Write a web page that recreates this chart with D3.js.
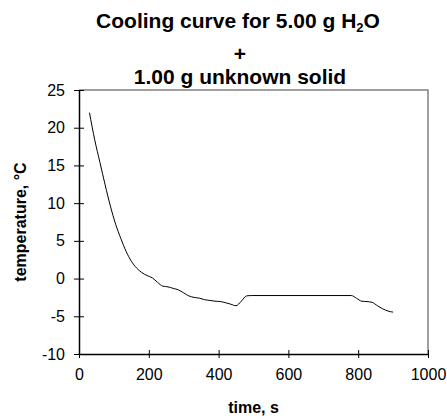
<!DOCTYPE html>
<html>
<head>
<meta charset="utf-8">
<script src="https://cdn.jsdelivr.net/npm/d3@7"></script>
<style>
  body { margin: 0; background: #fff; }
  text { font-family: "Liberation Sans", Arial, sans-serif; fill: #000; }
</style>
</head>
<body>
<script>
//Data
var times = [30, 45, 60, 75, 90, 105, 120, 135, 150, 165, 180, 195, 210, 225, 240, 255, 270, 285, 300, 315,
             330, 345, 360, 375, 390, 405, 420, 435, 450, 465, 480, 495, 780, 795, 810, 825, 840, 855, 870, 885, 900];
var temps = [22.0, 18.4, 15.4, 12.4, 9.6, 7.2, 5.3, 3.6, 2.3, 1.4, 0.8, 0.4, 0.1, -0.5, -1.0, -1.1, -1.3, -1.5, -1.9, -2.3,
             -2.5, -2.6, -2.8, -2.9, -3.0, -3.05, -3.2, -3.4, -3.6, -3.0, -2.3, -2.25, -2.25, -2.6, -3.0, -3.05, -3.15, -3.6, -4.0, -4.3, -4.45];
var xTicks = [0, 200, 400, 600, 800, 1000];
var yTicks = [-10, -5, 0, 5, 10, 15, 20, 25];

var width = 447, height = 419;
var margin = {top: 90, right: 19, bottom: 65, left: 79};
var plotW = width - margin.left - margin.right;
var plotH = height - margin.top - margin.bottom;

var points = times.map(function(t, i) { return {t: t, v: temps[i]}; });

var svg = d3.select("body").append("svg")
    .attr("width", width)
    .attr("height", height);

//Title, three lines
var title = svg.append("g").attr("font-weight", "bold").attr("font-size", 21).attr("text-anchor", "middle");
var t1 = title.append("text").attr("x", 238).attr("y", 28);
t1.append("tspan").text("Cooling curve for 5.00 g H");
t1.append("tspan").attr("font-size", 13).attr("dy", 4).text("2");
t1.append("tspan").attr("dy", -4).text("O");
title.append("text").attr("x", 240).attr("y", 61).text("+");
title.append("text").attr("x", 240).attr("y", 84).text("1.00 g unknown solid");

var plot = svg.append("g")
    .attr("transform", "translate(" + margin.left + "," + margin.top + ")");

//Scales
var x = d3.scaleLinear().domain([0, 1000]).range([0, plotW]);
var y = d3.scaleLinear().domain([-10, 25]).range([plotH, 0]);

//Plot area border (top and right)
plot.append("path")
    .attr("d", "M0,0H" + plotW + "V" + plotH)
    .attr("fill", "none")
    .attr("stroke", "#808080")
    .attr("stroke-width", 1.5);

//Axes, plain hyphen for negatives and no thousands comma
var fmt = function(d) { return String(d); };
var xAxis = d3.axisBottom(x).tickValues(xTicks).tickFormat(fmt).tickSizeInner(4).tickSizeOuter(0).tickPadding(11);
var yAxis = d3.axisLeft(y).tickValues(yTicks).tickFormat(fmt).tickSizeInner(5).tickSizeOuter(0).tickPadding(9);

var gx = plot.append("g").attr("transform", "translate(0," + plotH + ")").call(xAxis);
var gy = plot.append("g").call(yAxis);

[gx, gy].forEach(function(g) {
    g.select(".domain").attr("stroke", "#000").attr("stroke-width", 1.5);
    g.selectAll(".tick line").attr("stroke", "#000");
    g.selectAll(".tick text").attr("font-size", 16).attr("font-family", "Liberation Sans, Arial, sans-serif");
});
//Ticks cross the axis line
gx.selectAll(".tick line").attr("y1", -4).attr("y2", 4);
gy.selectAll(".tick line").attr("x1", -5).attr("x2", 5);

//Axis titles
svg.append("text")
    .attr("x", margin.left + plotW / 2)
    .attr("y", 413)
    .attr("text-anchor", "middle")
    .attr("font-weight", "bold")
    .attr("font-size", 16)
    .text("time, s");

svg.append("text")
    .attr("transform", "translate(26," + (margin.top + plotH / 2) + ") rotate(-90)")
    .attr("text-anchor", "middle")
    .attr("font-weight", "bold")
    .attr("font-size", 16)
    .text("temperature, \u00B0C");

//The curve
var line = d3.line()
    .x(function(d) { return x(d.t); })
    .y(function(d) { return y(d.v); })
    .curve(d3.curveMonotoneX);

plot.append("path")
    .datum(points)
    .attr("d", line)
    .attr("fill", "none")
    .attr("stroke", "#000")
    .attr("stroke-width", 1);
</script>
</body>
</html>
